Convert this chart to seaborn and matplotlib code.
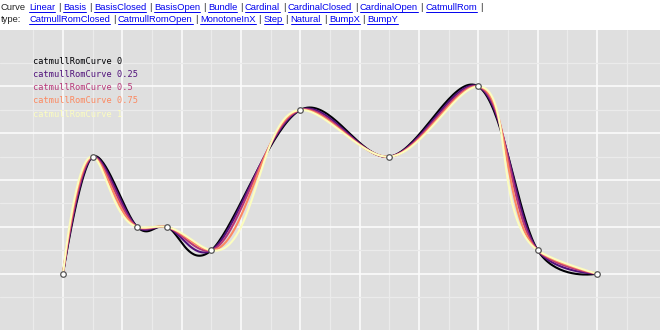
import numpy as np
import pandas as pd
import matplotlib
matplotlib.use("Agg")
import matplotlib.pyplot as plt
import seaborn as sns
from matplotlib.transforms import IdentityTransform
from matplotlib.lines import Line2D

# ---------------- data ----------------
point_x = [0, 1, 2.5, 3.5, 5, 8, 11, 14, 16, 18]
point_y = [0, 5, 2, 2, 1, 7, 5, 8, 1, 0]
curve_alphas = [0.0, 0.25, 0.5, 0.75, 1.0]
curve_labels = ["catmullRomCurve 0", "catmullRomCurve 0.25", "catmullRomCurve 0.5",
                "catmullRomCurve 0.75", "catmullRomCurve 1"]
menu_line1 = ["Linear", "Basis", "BasisClosed", "BasisOpen", "Bundle", "Cardinal",
              "CardinalClosed", "CardinalOpen", "CatmullRom"]
menu_line2 = ["CatmullRomClosed", "CatmullRomOpen", "MonotoneInX", "Step", "Natural",
              "BumpX", "BumpY"]

# ---------------- figure ----------------
W, H = 660, 336
sns.set_style("white")
fig = plt.figure(figsize=(W / 100, H / 100), dpi=100)
ax = fig.add_axes([0, (H - 330) / H, 1, 300 / H])
ax.set_facecolor("#dfdfdf")

x_unit, y_unit, x0px, y0px = 29.67, 23.4, 63.0, 273.7
ax.set_xlim(-x0px / x_unit, (W - x0px) / x_unit)
ax.set_ylim(-(330 - y0px) / y_unit, (y0px - 30) / y_unit)

ax.set_xticks(np.arange(0, 19, 2))
ax.set_xticks(np.arange(-1, 20, 2), minor=True)
ax.set_yticks(np.arange(0, 9, 2))
ax.set_yticks(np.arange(-1, 10, 2), minor=True)
ax.tick_params(which="both", length=0, labelbottom=False, labelleft=False)
ax.grid(which="major", color="#fbfbfb", lw=1.2)
ax.grid(which="minor", color="#ebebeb", lw=0.9)
ax.set_axisbelow(True)
for s in ax.spines.values():
    s.set_visible(False)


def catmull_rom(pts, alpha, n=40):
    pts = np.asarray(pts, float)
    N = len(pts)
    out = [pts[:1]]
    for i in range(N - 1):
        p1, p2 = pts[i], pts[i + 1]
        p0 = pts[i - 1] if i > 0 else None
        p3 = pts[i + 2] if i + 2 < N else None
        if alpha == 0:
            k = 1 / 6
            c1 = p1 + k * (p2 - p0) if p0 is not None else p1.copy()
            c2 = p2 + k * (p1 - p3) if p3 is not None else p2.copy()
        else:
            d12 = np.linalg.norm(p2 - p1)
            l12a, l12_2a = d12 ** alpha, d12 ** (2 * alpha)
            c1 = p1.copy()
            if p0 is not None:
                d01 = np.linalg.norm(p1 - p0)
                l01a, l01_2a = d01 ** alpha, d01 ** (2 * alpha)
                if l01a > 1e-12:
                    a = 2 * l01_2a + 3 * l01a * l12a + l12_2a
                    nn = 3 * l01a * (l01a + l12a)
                    c1 = (p1 * a - p0 * l12_2a + p2 * l01_2a) / nn
            c2 = p2.copy()
            if p3 is not None:
                d23 = np.linalg.norm(p3 - p2)
                l23a, l23_2a = d23 ** alpha, d23 ** (2 * alpha)
                if l23a > 1e-12:
                    b = 2 * l23_2a + 3 * l23a * l12a + l12_2a
                    m = 3 * l23a * (l23a + l12a)
                    c2 = (p2 * b + p1 * l23_2a - p3 * l12_2a) / m
        t = np.linspace(0, 1, n)[1:, None]
        seg = ((1 - t) ** 3) * p1 + 3 * ((1 - t) ** 2) * t * c1 + 3 * (1 - t) * t ** 2 * c2 + t ** 3 * p2
        out.append(seg)
    return np.vstack(out)


# compute curves in screen space (like the original), then map back to data
disp = ax.transData.transform(np.column_stack([point_x, point_y]))
inv = ax.transData.inverted()
cmap = sns.color_palette("magma", as_cmap=True)
colors = [cmap(float(a)) for a in curve_alphas]

frames = []
for a, lab in zip(curve_alphas, curve_labels):
    c = inv.transform(catmull_rom(disp, a))
    frames.append(pd.DataFrame({"x": c[:, 0], "y": c[:, 1], "curve": lab}))
df = pd.concat(frames, ignore_index=True)

sns.lineplot(data=df, x="x", y="y", hue="curve", hue_order=curve_labels,
             palette=colors, sort=False, estimator=None, legend=False,
             lw=1.5, ax=ax)
sns.scatterplot(x=point_x, y=point_y, color="white", edgecolor="#555555",
                s=16, linewidth=0.9, zorder=5, ax=ax)
ax.set_xlabel("")
ax.set_ylabel("")

# legend-like labels
for i, (lab, col) in enumerate(zip(curve_labels, colors)):
    yc = 61 + i * 13.3
    fig.text(33.3, H - yc, lab, transform=IdentityTransform(), color=col,
             family="DejaVu Sans Mono", fontsize=6.2, va="center", ha="left")

# ---------------- header menu ----------------
renderer = fig.canvas.get_renderer()
hfont = "Liberation Sans"


def ink(s, fs):
    t = fig.text(0, 0, s, fontsize=fs, family=hfont, transform=IdentityTransform())
    w = t.get_window_extent(renderer).width
    t.remove()
    return w


def adv(s, fs):
    return ink(s + "|", fs) - ink("|", fs)


full1 = " | ".join(menu_line1) + " |"
fs = 10 * 451.0 / ink(full1, 10)
bar_w = ink("|", fs)
gap = (adv("a | ", fs) - ink("a", fs) - bar_w) / 2.0


def draw_line(items, trailing, x0, ybase):
    prefix = ""
    starts, ends = [], []
    for j, s in enumerate(items):
        x = x0 + adv(prefix, fs) if prefix else x0
        w = ink(s, fs)
        starts.append(x)
        ends.append(x + w)
        fig.text(x, H - ybase, s, fontsize=fs, family=hfont, color="#0000ee",
                 transform=IdentityTransform(), va="baseline", ha="left")
        fig.add_artist(Line2D([x, x + w], [H - ybase - 1.3, H - ybase - 1.3],
                              transform=IdentityTransform(), color="#0000ee", lw=0.7))
        prefix += s + " | "
    for j in range(len(items) - 1):
        xb = (ends[j] + starts[j + 1]) / 2.0 - bar_w / 2.0
        fig.text(xb, H - ybase, "|", fontsize=fs, family=hfont, color="#222222",
                 transform=IdentityTransform(), va="baseline", ha="left")
    if trailing:
        fig.text(ends[-1] + gap, H - ybase, "|", fontsize=fs, family=hfont,
                 color="#222222", transform=IdentityTransform(),
                 va="baseline", ha="left")


fig.text(0.7, H - 10.5, "Curve", fontsize=fs, family=hfont, color="#222222",
         transform=IdentityTransform(), va="baseline", ha="left")
fig.text(0.7, H - 22.5, "type:", fontsize=fs, family=hfont, color="#222222",
         transform=IdentityTransform(), va="baseline", ha="left")
draw_line(menu_line1, True, 29.3, 10.5)
draw_line(menu_line2, False, 29.3, 22.5)

fig.savefig("out.png", dpi=100)
